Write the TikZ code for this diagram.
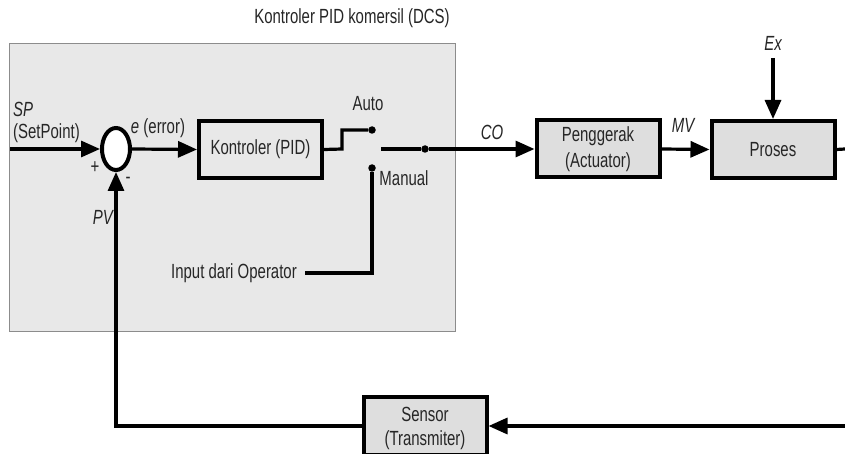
\documentclass[tikz,border=0pt]{standalone}
\usepackage{fontspec}
\setmainfont{Liberation Sans}[FakeStretch=0.73]
\usetikzlibrary{arrows.meta,shapes.geometric}

\begin{document}
\begin{tikzpicture}[x=1pt,y=-1pt,
  txt/.style={font=\fontsize{20.5}{26}\selectfont, text=black!85, inner sep=0pt},
  lbl/.style={txt, font=\fontsize{20.5}{26}\selectfont\itshape},
  blk/.style={draw=black, line width=4pt, fill=#1, minimum width=123pt,
    minimum height=57pt, txt, align=center},
  blk/.default={black!13},
  wire/.style={line width=3.2pt},
  arr/.style={wire, -{Triangle[length=19pt,width=16pt]}},
  dot/.style={circle, fill=black, inner sep=0pt, minimum size=7.5pt},
  panel/.style={draw=black!45, fill=black!9, line width=1pt, inner sep=0pt}
]
\useasboundingbox (0,0) rectangle (845,454);

% commercial controller panel
\node[panel, minimum width=446pt, minimum height=287pt] (dcs) at (232,187.5) {};
\node[txt] (title) at (352,18) {Kontroler PID komersil (DCS)};

% summing junction
\node[ellipse, draw=black, fill=white, line width=4pt, inner sep=0pt,
  minimum width=28pt, minimum height=42pt] (sum) at (116,149) {};
\coordinate (spin) at (10,149);
\draw[arr] (spin) -- (sum.west);
\node[lbl, anchor=west] (splbl) at (13,109) {SP};
\node[txt, anchor=west] (spname) at (13,133) {(SetPoint)};
\node[txt] (plus) at (95,168) {+};
\node[txt] (minus) at (128,180) {-};

% controller block
\node[blk=black!9] (pid) at (260.5,149.5) {Kontroler (PID)};
\draw[arr] (sum.east) -- (pid.west);
\node[txt] (elbl) at (158,128) {\textit{e} (error)};

% auto / manual switch
\node[dot] (auto) at (372,130) {};
\node[dot] (man) at (372,168) {};
\coordinate (wiper) at (381,149);
\node[dot] (tap) at (425,149) {};
\coordinate (step) at (342,149);
\draw[wire] (pid.east) -- (step) |- (auto);
\draw[wire] (wiper) -- (tap);
\node[txt] (autolbl) at (368,104) {Auto};
\node[txt] (manlbl) at (404,178) {Manual};
\node[txt, anchor=east] (op) at (297,273) {Input dari Operator};
\coordinate (opend) at (305,273);
\draw[wire] (man) |- (opend);

% actuator and process
\node[blk] (act) at (598,149) {Penggerak\\(Actuator)};
\node[blk] (proc) at (773,149.5) {Proses};
\draw[arr] (tap) -- (act.west);
\draw[arr] (act.east) -- (proc.west);
\node[lbl] (colbl) at (492,132) {CO};
\node[lbl] (mvlbl) at (683,125) {MV};
\node[lbl] (ex) at (773,43) {Ex};
\coordinate (exin) at (773,58);
\draw[arr] (exin) -- (proc.north);

% feedback path
\coordinate (r1) at (845,149);
\coordinate (r2) at (845,426);
\draw[wire] (proc.east) -- (r1);
\node[blk, minimum height=58pt, text depth=0pt, font=\fontsize{20.5}{24}\selectfont]
  (sens) at (425,426) {Sensor\\(Transmiter)};
\draw[arr] (r2) -- (sens.east);
\draw[arr] (sens.west) -| (sum.south);
\node[lbl, anchor=east] (pvlbl) at (113,217) {PV};
\end{tikzpicture}
\end{document}
